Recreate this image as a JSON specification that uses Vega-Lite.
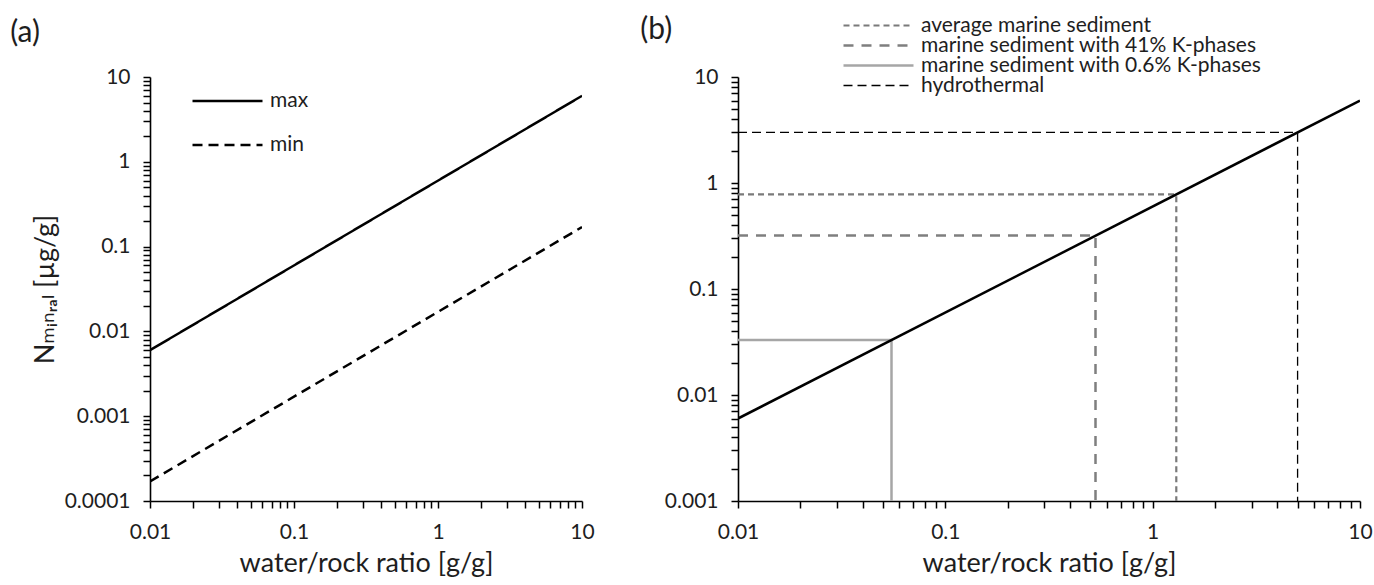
{
  "$schema": "https://vega.github.io/schema/vega-lite/v6.json",
  "background": "white",
  "padding": {"left": 10, "top": 15, "right": 2, "bottom": 2},
  "spacing": 45,
  "config": {
    "view": {"stroke": null},
    "font": "Lato, DejaVu Sans",
    "axis": {
      "grid": false,
      "ticks": true,
      "domainColor": "#000000",
      "domainWidth": 1.6,
      "tickColor": "#000000",
      "tickWidth": 1.5,
      "tickSize": 7,
      "labelFont": "Lato, DejaVu Sans",
      "labelFontSize": 21,
      "labelColor": "#1e1e1e",
      "labelFlush": false,
      "labelOverlap": false,
      "labelPadding": 13,
      "titleFont": "Lato, DejaVu Sans",
      "titleFontSize": 27,
      "titleFontWeight": "normal",
      "titleColor": "#1e1e1e"
    },
    "legend": {
      "labelFont": "Lato, DejaVu Sans",
      "labelFontSize": 21,
      "labelColor": "#1e1e1e",
      "labelLimit": 500,
      "symbolType": "stroke",
      "symbolSize": 4900,
      "labelOffset": 6
    },
    "title": {
      "font": "Lato, DejaVu Sans",
      "fontSize": 30,
      "fontWeight": "normal",
      "color": "#1e1e1e",
      "anchor": "start",
      "frame": "bounds"
    }
  },
  "resolve": {
    "scale": {"x": "independent", "y": "independent", "color": "independent", "strokeDash": "independent", "strokeWidth": "independent"},
    "legend": {"color": "independent", "strokeDash": "independent", "strokeWidth": "independent"}
  },
  "hconcat": [
    {
      "title": {"text": "(a)", "dx": -21, "offset": 18},
      "width": 432,
      "height": 424,
      "data": {
        "values": [
          {"series": "max", "ratio": 0.01, "n": 0.006},
          {"series": "max", "ratio": 10, "n": 6},
          {"series": "min", "ratio": 0.01, "n": 0.00017},
          {"series": "min", "ratio": 10, "n": 0.17}
        ]
      },
      "mark": {"type": "line", "clip": true},
      "encoding": {
        "x": {
          "field": "ratio", "type": "quantitative",
          "scale": {"type": "log", "domain": [0.01, 10], "nice": false},
          "axis": {
            "title": "water/rock ratio [g/g]",
            "values": [0.01,0.02,0.03,0.04,0.05,0.06,0.07,0.08,0.09,0.1,0.2,0.3,0.4,0.5,0.6,0.7,0.8,0.9,1,2,3,4,5,6,7,8,9,10],
            "labelExpr": "abs(log(datum.value)/LN10 - round(log(datum.value)/LN10)) < 0.000001 ? '' + datum.value : ''",
            "titlePadding": 8
          }
        },
        "y": {
          "field": "n", "type": "quantitative",
          "scale": {"type": "log", "domain": [0.0001, 10], "nice": false},
          "axis": {
            "title": "Nₘᵢₙᵣₐₗ [µg/g]",
            "values": [0.0001,0.0002,0.0003,0.0004,0.0005,0.0006,0.0007,0.0008,0.0009,0.001,0.002,0.003,0.004,0.005,0.006,0.007,0.008,0.009,0.01,0.02,0.03,0.04,0.05,0.06,0.07,0.08,0.09,0.1,0.2,0.3,0.4,0.5,0.6,0.7,0.8,0.9,1,2,3,4,5,6,7,8,9,10],
            "labelExpr": "abs(log(datum.value)/LN10 - round(log(datum.value)/LN10)) < 0.000001 ? '' + datum.value : ''",
            "titlePadding": 5
          }
        },
        "color": {
          "field": "series", "type": "nominal",
          "scale": {"domain": ["max", "min"], "range": ["#000000", "#000000"]},
          "legend": {"title": null, "orient": "none", "legendX": 41, "legendY": 14, "rowPadding": 23, "clipHeight": 20}
        },
        "strokeDash": {
          "field": "series", "type": "nominal",
          "scale": {"domain": ["max", "min"], "range": [[1, 0], [10, 6]]},
          "legend": {"title": null, "orient": "none", "legendX": 41, "legendY": 14, "rowPadding": 23, "clipHeight": 20}
        },
        "strokeWidth": {
          "field": "series", "type": "nominal",
          "scale": {"type": "ordinal", "domain": ["max", "min"], "range": [2.5, 2.5]},
          "legend": {"title": null, "orient": "none", "legendX": 41, "legendY": 14, "rowPadding": 23, "clipHeight": 20}
        }
      }
    },
    {
      "title": {"text": "(b)", "dx": -24, "offset": -29},
      "width": 622,
      "height": 424,
      "layer": [
        {
          "data": {
            "values": [
              {"series": "average marine sediment", "step": 1, "ratio": 0.01, "n": 0.78},
              {"series": "average marine sediment", "step": 2, "ratio": 1.3, "n": 0.78},
              {"series": "average marine sediment", "step": 3, "ratio": 1.3, "n": 0.001},
              {"series": "marine sediment with 41% K-phases", "step": 1, "ratio": 0.01, "n": 0.32},
              {"series": "marine sediment with 41% K-phases", "step": 2, "ratio": 0.53, "n": 0.32},
              {"series": "marine sediment with 41% K-phases", "step": 3, "ratio": 0.53, "n": 0.001},
              {"series": "marine sediment with 0.6% K-phases", "step": 1, "ratio": 0.01, "n": 0.033},
              {"series": "marine sediment with 0.6% K-phases", "step": 2, "ratio": 0.055, "n": 0.033},
              {"series": "marine sediment with 0.6% K-phases", "step": 3, "ratio": 0.055, "n": 0.001},
              {"series": "hydrothermal", "step": 1, "ratio": 0.01, "n": 3.0},
              {"series": "hydrothermal", "step": 2, "ratio": 5.0, "n": 3.0},
              {"series": "hydrothermal", "step": 3, "ratio": 5.0, "n": 0.001}
            ]
          },
          "mark": {"type": "line", "clip": true},
          "encoding": {
            "x": {"field": "ratio", "type": "quantitative"},
            "y": {"field": "n", "type": "quantitative"},
            "order": {"field": "step", "type": "quantitative"},
            "color": {
              "field": "series", "type": "nominal",
              "scale": {
                "domain": ["average marine sediment", "marine sediment with 41% K-phases", "marine sediment with 0.6% K-phases", "hydrothermal"],
                "range": ["#7a7a7a", "#7f7f7f", "#a6a6a6", "#000000"]
              },
              "legend": {"title": null, "orient": "none", "legendX": 104, "legendY": -61, "rowPadding": -3, "clipHeight": 19}
            },
            "strokeDash": {
              "field": "series", "type": "nominal",
              "scale": {
                "domain": ["average marine sediment", "marine sediment with 41% K-phases", "marine sediment with 0.6% K-phases", "hydrothermal"],
                "range": [[6, 4], [10, 8], [1, 0], [9, 5]]
              },
              "legend": {"title": null, "orient": "none", "legendX": 104, "legendY": -61, "rowPadding": -3, "clipHeight": 19}
            },
            "strokeWidth": {
              "field": "series", "type": "nominal",
              "scale": {
                "type": "ordinal",
                "domain": ["average marine sediment", "marine sediment with 41% K-phases", "marine sediment with 0.6% K-phases", "hydrothermal"],
                "range": [2.2, 2.5, 2.5, 1.3]
              },
              "legend": {"title": null, "orient": "none", "legendX": 104, "legendY": -61, "rowPadding": -3, "clipHeight": 19}
            }
          }
        },
        {
          "data": {
            "values": [
              {"ratio": 0.01, "n": 0.006},
              {"ratio": 10, "n": 6}
            ]
          },
          "mark": {"type": "line", "color": "#000000", "strokeWidth": 2.5, "clip": true},
          "encoding": {
            "x": {"field": "ratio", "type": "quantitative"},
            "y": {"field": "n", "type": "quantitative"}
          }
        }
      ],
      "encoding": {
        "x": {
          "field": "ratio", "type": "quantitative",
          "scale": {"type": "log", "domain": [0.01, 10], "nice": false},
          "axis": {
            "title": "water/rock ratio [g/g]",
            "values": [0.01,0.02,0.03,0.04,0.05,0.06,0.07,0.08,0.09,0.1,0.2,0.3,0.4,0.5,0.6,0.7,0.8,0.9,1,2,3,4,5,6,7,8,9,10],
            "labelExpr": "abs(log(datum.value)/LN10 - round(log(datum.value)/LN10)) < 0.000001 ? '' + datum.value : ''",
            "titlePadding": 8
          }
        },
        "y": {
          "field": "n", "type": "quantitative",
          "scale": {"type": "log", "domain": [0.001, 10], "nice": false},
          "axis": {
            "title": null,
            "values": [0.001,0.002,0.003,0.004,0.005,0.006,0.007,0.008,0.009,0.01,0.02,0.03,0.04,0.05,0.06,0.07,0.08,0.09,0.1,0.2,0.3,0.4,0.5,0.6,0.7,0.8,0.9,1,2,3,4,5,6,7,8,9,10],
            "labelExpr": "abs(log(datum.value)/LN10 - round(log(datum.value)/LN10)) < 0.000001 ? '' + datum.value : ''"
          }
        }
      }
    }
  ]
}
